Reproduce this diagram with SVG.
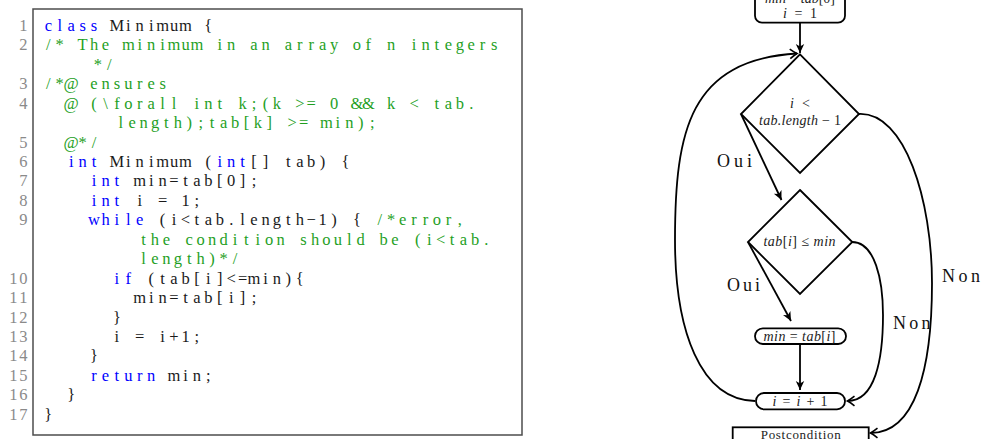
<svg xmlns="http://www.w3.org/2000/svg" width="981" height="439" viewBox="0 0 981 439">
<style>
.code{font-family:"Liberation Serif",serif;font-size:16.5px;text-anchor:middle}
.kw{fill:#0000ff}.cm{fill:#1f9f1f}.id{fill:#1a1a1a}.ln{fill:#8a8a8a}
.m{font-family:"Liberation Serif",serif;font-size:14px;font-style:italic;fill:#222;text-anchor:middle}
.u{font-style:normal}
.lbl{font-family:"Liberation Serif",serif;font-size:18px;fill:#111}
.shape{fill:#fff;stroke:#000;stroke-width:1.8}
.edge{fill:none;stroke:#000;stroke-width:1.8}
</style>
<defs>
<marker id="fa" viewBox="-11 -6 12 12" refX="0" refY="0" markerWidth="12" markerHeight="12" markerUnits="userSpaceOnUse" orient="auto" overflow="visible">
<path d="M0,0 L-9,-4.2 L-6.5,0 L-9,4.2 Z" fill="#000"/>
</marker>
<marker id="oa" viewBox="-11 -6 12 12" refX="0" refY="0" markerWidth="12" markerHeight="12" markerUnits="userSpaceOnUse" orient="auto" overflow="visible">
<path d="M-7,-4.8 Q-2.5,-1.2 0,0 Q-2.5,1.2 -7,4.8" fill="none" stroke="#000" stroke-width="1.6"/>
</marker>
</defs>
<rect width="981" height="439" fill="#fff"/>
<g id="listing">
<rect x="33" y="9" width="489" height="426" fill="none" stroke="#4d4d4d" stroke-width="1.5"/>
<text class="code ln"><tspan x="23.4" y="31">1</tspan><tspan x="23.4" y="50.4">2</tspan><tspan x="23.4" y="89.3">3</tspan><tspan x="23.4" y="108.7">4</tspan><tspan x="23.4" y="147.6">5</tspan><tspan x="23.4" y="167">6</tspan><tspan x="23.4" y="186.4">7</tspan><tspan x="23.4" y="205.9">8</tspan><tspan x="23.4" y="225.3">9</tspan><tspan x="13.3 23.4" y="283.6">10</tspan><tspan x="13.3 23.4" y="303">11</tspan><tspan x="13.3 23.4" y="322.5">12</tspan><tspan x="13.3 23.4" y="341.9">13</tspan><tspan x="13.3 23.4" y="361.3">14</tspan><tspan x="13.3 23.4" y="380.7">15</tspan><tspan x="13.3 23.4" y="400.2">16</tspan><tspan x="13.3 23.4" y="419.6">17</tspan></text>
<text class="code" y="31"><tspan class="kw" x="48.3 59.7 71.2 82.6 94.0">class</tspan><tspan class="id" x="116.9 128.3 139.7 151.2 162.6 174.0 185.5">Minimum</tspan><tspan class="id" x="208.3">{</tspan></text>
<text class="code cm" y="50.4"><tspan x="48.3 59.7">/*</tspan><tspan x="82.6 94.0 105.5">The</tspan><tspan x="128.3 139.7 151.2 162.6 174.0 185.5 196.9">minimum</tspan><tspan x="219.8 231.2">in</tspan><tspan x="254.0 265.5">an</tspan><tspan x="288.3 299.8 311.2 322.6 334.1">array</tspan><tspan x="356.9 368.3">of</tspan><tspan x="391.2">n</tspan><tspan x="414.1 425.5 436.9 448.4 459.8 471.2 482.6 494.1">integers</tspan></text>
<text class="code cm" y="69.9"><tspan x="97.8 109.2">*/</tspan></text>
<text class="code cm" y="89.3"><tspan x="48.3 59.7 71.2">/*@</tspan><tspan x="94.0 105.5 116.9 128.3 139.7 151.2 162.6">ensures</tspan></text>
<text class="code cm" y="108.7"><tspan x="71.2">@</tspan><tspan x="94.0 105.5 116.9 128.3 139.7 151.2 162.6 174.0">(\forall</tspan><tspan x="196.9 208.3 219.8">int</tspan><tspan x="242.6 254.0 265.5 276.9">k;(k</tspan><tspan x="299.8 311.2">&gt;=</tspan><tspan x="334.1">0</tspan><tspan x="356.9 368.3">&amp;&amp;</tspan><tspan x="391.2">k</tspan><tspan x="414.1">&lt;</tspan><tspan x="436.9 448.4 459.8 471.2">tab.</tspan></text>
<text class="code cm" y="128.2"><tspan x="120.7 132.1 143.6 155.0 166.4 177.9 189.3 200.7 212.1 223.6 235.0 246.4 257.9 269.3">length);tab[k]</tspan><tspan x="292.2 303.6">&gt;=</tspan><tspan x="326.4 337.9 349.3 360.7 372.2">min);</tspan></text>
<text class="code cm" y="147.6"><tspan x="71.2 82.6 94.0">@*/</tspan></text>
<text class="code" y="167"><tspan class="kw" x="71.2 82.6 94.0">int</tspan><tspan class="id" x="116.9 128.3 139.7 151.2 162.6 174.0 185.5">Minimum</tspan><tspan class="id" x="208.3">(</tspan><tspan class="kw" x="219.8 231.2 242.6">int</tspan><tspan class="id" x="254.0 265.5">[]</tspan><tspan class="id" x="288.3 299.8 311.2 322.6">tab)</tspan><tspan class="id" x="345.5">{</tspan></text>
<text class="code" y="186.4"><tspan class="kw" x="94.0 105.5 116.9">int</tspan><tspan class="id" x="139.7 151.2 162.6 174.0 185.5 196.9 208.3 219.8 231.2 242.6 254.0">min=tab[0];</tspan></text>
<text class="code" y="205.9"><tspan class="kw" x="94.0 105.5 116.9">int</tspan><tspan class="id" x="139.7">i</tspan><tspan class="id" x="162.6">=</tspan><tspan class="id" x="185.5 196.9">1;</tspan></text>
<text class="code" y="225.3"><tspan class="kw" x="94.0 105.5 116.9 128.3 139.7">while</tspan><tspan class="id" x="162.6 174.0 185.5 196.9 208.3 219.8 231.2 242.6 254.0 265.5 276.9 288.3 299.8 311.2 322.6 334.1">(i&lt;tab.length−1)</tspan><tspan class="id" x="356.9">{</tspan><tspan class="cm" x="379.8 391.2 402.6 414.1 425.5 436.9 448.4 459.8">/*error,</tspan></text>
<text class="code cm" y="244.7"><tspan x="143.5 154.9 166.4">the</tspan><tspan x="189.2 200.7 212.1 223.5 235.0 246.4 257.8 269.2 280.7">condition</tspan><tspan x="303.5 315.0 326.4 337.8 349.3 360.7">should</tspan><tspan x="383.5 395.0">be</tspan><tspan x="417.8 429.3 440.7 452.1 463.5 475.0 486.4">(i&lt;tab.</tspan></text>
<text class="code cm" y="264.2"><tspan x="143.5 154.9 166.4 177.8 189.2 200.7 212.1 223.5 235.0">length)*/</tspan></text>
<text class="code" y="283.6"><tspan class="kw" x="116.9 128.3">if</tspan><tspan class="id" x="151.2 162.6 174.0 185.5 196.9 208.3 219.8 231.2 242.6 254.0 265.5 276.9 288.3 299.8">(tab[i]&lt;=min){</tspan></text>
<text class="code id" y="303"><tspan x="139.7 151.2 162.6 174.0 185.5 196.9 208.3 219.8 231.2 242.6 254.0">min=tab[i];</tspan></text>
<text class="code id" y="322.5"><tspan x="116.9">}</tspan></text>
<text class="code id" y="341.9"><tspan x="116.9">i</tspan><tspan x="139.7">=</tspan><tspan x="162.6 174.0 185.5 196.9">i+1;</tspan></text>
<text class="code id" y="361.3"><tspan x="94.0">}</tspan></text>
<text class="code" y="380.7"><tspan class="kw" x="94.0 105.5 116.9 128.3 139.7 151.2">return</tspan><tspan class="id" x="174.0 185.5 196.9 208.3">min;</tspan></text>
<text class="code id" y="400.2"><tspan x="71.2">}</tspan></text>
<text class="code id" y="419.6"><tspan x="48.3">}</tspan></text>
</g>
<g id="connectors">
<path class="edge" d="M800,22.7 L800,53" marker-end="url(#fa)"/>
<path class="edge" d="M741,114 L781.5,200" marker-end="url(#fa)"/>
<path class="edge" d="M748,242 L791,321" marker-end="url(#fa)"/>
<path class="edge" d="M800,344 L800,390" marker-end="url(#fa)"/>
<path class="edge" d="M755,401 C700,400 675,330 675,240 C675,130 690,60 797,53.5" marker-end="url(#oa)"/>
<path class="edge" d="M859,114 C905,112 932,200 932,283 C932,370 915,433 870.5,433" marker-end="url(#oa)"/>
<path class="edge" d="M852,242 C875,242 883,280 883,315 C883,360 875,401 847.5,401" marker-end="url(#oa)"/>
<text class="lbl" x="717" y="166.7" textLength="35" lengthAdjust="spacing">Oui</text>
<text class="lbl" x="727" y="290.7" textLength="33" lengthAdjust="spacing">Oui</text>
<text class="lbl" x="893" y="329.3" textLength="37.5" lengthAdjust="spacing">Non</text>
<text class="lbl" x="942" y="281.7" textLength="38" lengthAdjust="spacing">Non</text>
</g>
<g id="init">
<rect class="shape" x="755" y="-20" width="90" height="42.7" rx="7"/>
<text class="m" x="800" y="2.5" textLength="70" lengthAdjust="spacing">min<tspan class="u"> = </tspan>tab<tspan class="u">[0]</tspan></text>
<text class="m" x="800" y="18" textLength="34" lengthAdjust="spacing">i<tspan class="u"> = 1</tspan></text>
</g>
<g id="loop-cond">
<polygon class="shape" points="800,54.3 859,114 800,173 741,114"/>
<text class="m" x="800" y="108.3" textLength="20" lengthAdjust="spacing">i<tspan class="u"> &lt;</tspan></text>
<text class="m" x="800" y="125" textLength="82" lengthAdjust="spacing">tab.length<tspan class="u"> − 1</tspan></text>
</g>
<g id="if-cond">
<polygon class="shape" points="800,190 852.3,242 800,294 748,242"/>
<text class="m" x="799.5" y="245.5" textLength="72" lengthAdjust="spacing">tab<tspan class="u">[</tspan>i<tspan class="u">] ≤ </tspan>min</text>
</g>
<g id="assign-min">
<rect class="shape" x="755" y="328.3" width="91" height="15.7" rx="7.8"/>
<text class="m" x="799.5" y="340.5" textLength="72" lengthAdjust="spacing">min<tspan class="u"> = </tspan>tab<tspan class="u">[</tspan>i<tspan class="u">]</tspan></text>
</g>
<g id="increment">
<rect class="shape" x="756" y="393" width="89" height="16.3" rx="8"/>
<text class="m" x="800" y="405.5" textLength="55" lengthAdjust="spacing">i<tspan class="u"> = </tspan>i<tspan class="u"> + 1</tspan></text>
</g>
<g id="postcondition">
<rect class="shape" x="732.7" y="427.3" width="136" height="20"/>
<text x="800.7" y="439" font-family="Liberation Serif, serif" font-size="13" text-anchor="middle" fill="#222" textLength="80" lengthAdjust="spacing">Postcondition</text>
</g>
</svg>
